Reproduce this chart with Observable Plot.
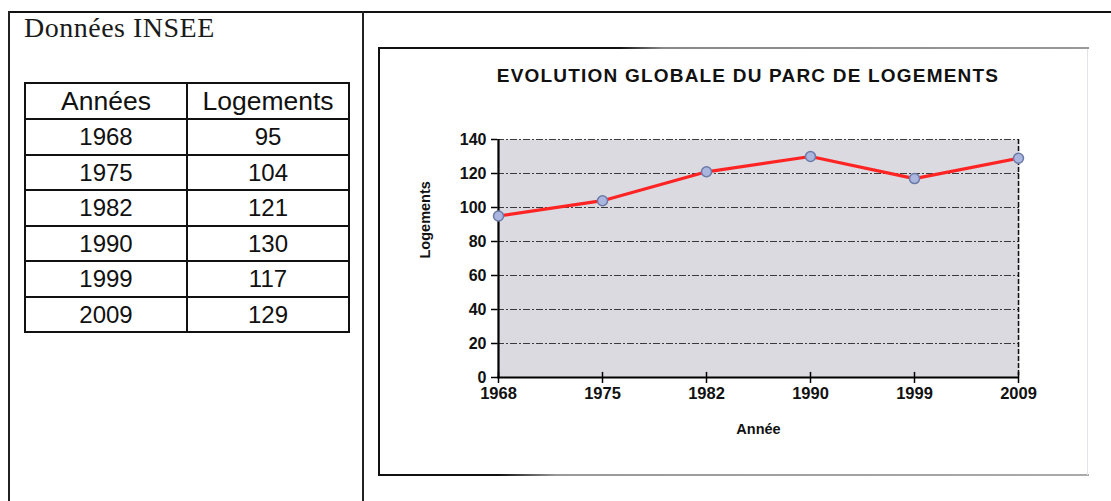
<!DOCTYPE html>
<html>
<head>
<meta charset="utf-8">
<script src="https://cdn.jsdelivr.net/npm/d3@7"></script>
<script src="https://cdn.jsdelivr.net/npm/@observablehq/plot@0.6"></script>
<style>
  html, body { margin: 0; padding: 0; background: #fff; }
  body { width: 1111px; height: 501px; position: relative; overflow: hidden; }
  .abs { position: absolute; }
  #source { left: 24px; top: 11px; font-family: "Liberation Serif", "Times New Roman", serif; font-size: 28px; letter-spacing: 0.5px; color: #1a1a1a; line-height: 34px; }
  table#data { position: absolute; left: 24px; top: 82px; border-collapse: collapse; font-family: "Liberation Sans", Arial, sans-serif; font-size: 24px; color: #111; }
  table#data td, table#data th { border: 2px solid #111; text-align: center; font-weight: normal; padding: 0; height: 33.5px; line-height: 33px; }
  table#data th { height: 34px; font-size: 26.5px; }
  #title { left: 379px; width: 738px; top: 65px; text-align: center; font-family: "Liberation Sans", Arial, sans-serif; font-weight: bold; font-size: 19px; letter-spacing: 1.2px; color: #111; }
  #chart { left: 379px; top: 48px; }
</style>
</head>
<body>
<div class="abs" style="left:9px;top:11px;width:1102px;height:2px;background:#111"></div>
<div class="abs" style="left:8px;top:11px;width:2px;height:490px;background:#222"></div>
<div class="abs" style="left:362px;top:11px;width:2px;height:490px;background:#222"></div>
<div class="abs" style="left:378px;top:47px;width:2px;height:429px;background:#111"></div>
<div class="abs" style="left:378px;top:47px;width:711px;height:2px;background:linear-gradient(to right,#111 0%,#111 34%,#888 40%,#999 100%)"></div>
<div class="abs" style="left:378px;top:474px;width:711px;height:2px;background:linear-gradient(to right,#111 0%,#111 17%,#999 25%,#aaa 100%)"></div>
<div class="abs" style="left:1087px;top:49px;width:1px;height:426px;background:#e4e4e8"></div>
<div id="source" class="abs">Données INSEE</div>
<div id="tablewrap"></div>
<div id="title" class="abs">EVOLUTION GLOBALE DU PARC DE LOGEMENTS</div>
<div id="chart" class="abs"></div>
<script>
const years = ["1968", "1975", "1982", "1990", "1999", "2009"];
const logements = [95, 104, 121, 130, 117, 129];
const yTicks = [0, 20, 40, 60, 80, 100, 120, 140];
const headers = ["Années", "Logements"];
const xLabel = "Année";
const yLabel = "Logements";

// HTML table of the data
const table = document.createElement("table");
table.id = "data";
const hr = document.createElement("tr");
headers.forEach((h, i) => {
  const th = document.createElement("th");
  th.textContent = h;
  th.style.width = "160px";
  hr.appendChild(th);
});
table.appendChild(hr);
years.forEach((y, i) => {
  const tr = document.createElement("tr");
  [y, String(logements[i])].forEach(v => {
    const td = document.createElement("td");
    td.textContent = v;
    tr.appendChild(td);
  });
  table.appendChild(tr);
});
document.getElementById("tablewrap").appendChild(table);

const data = years.map((y, i) => ({year: y, value: logements[i]}));

const chart = Plot.plot({
  width: 709,
  height: 427,
  marginLeft: 118,
  marginRight: 69,
  marginTop: 91,
  marginBottom: 98,
  x: {type: "point", domain: years, padding: 0},
  y: {domain: [0, 140]},
  style: {fontFamily: "'Liberation Sans', Arial, sans-serif", fontWeight: "bold", fontSize: "16px", color: "#111", background: "transparent", overflow: "visible"},
  marks: [
    Plot.frame({fill: "#dadae0", stroke: null}),
    Plot.ruleY(yTicks.filter(d => d > 0), {stroke: "#111", strokeWidth: 1.2, strokeDasharray: "7,2,2,2", strokeOpacity: 0.8}),
    Plot.ruleX([years[years.length - 1]], {stroke: "#111", strokeWidth: 1.5, strokeDasharray: "5,2"}),
    Plot.axisY({ticks: yTicks, tickSize: 6, tickPadding: 5, tickFormat: d => String(d), stroke: "#000", strokeWidth: 1.5, fontSize: 16, label: null}),
    Plot.axisX({tickSize: 6, tickPadding: 4, stroke: "#000", strokeWidth: 1.5, fontSize: 16.5, label: null}),
    Plot.ruleX(years, {y1: 0, y2: 3, stroke: "#000", strokeWidth: 1.5}),
    Plot.ruleY([0], {stroke: "#000", strokeWidth: 2.2}),
    Plot.ruleX([years[0]], {stroke: "#000", strokeWidth: 2.2}),
    Plot.text([yLabel], {frameAnchor: "left", dx: -72, rotate: -90, fontSize: 14.5, fontWeight: "bold", style: "letter-spacing:0.8px"}),
    Plot.text([xLabel], {frameAnchor: "bottom", dy: 56, fontSize: 14.5, fontWeight: "bold"}),
    Plot.line(data, {x: "year", y: "value", stroke: "#ff2424", strokeWidth: 3.2}),
    Plot.dot(data, {x: "year", y: "value", r: 5, fill: "#aab6de", stroke: "#6c7aa8", strokeWidth: 1.5})
  ]
});
document.getElementById("chart").appendChild(chart);
</script>
</body>
</html>
